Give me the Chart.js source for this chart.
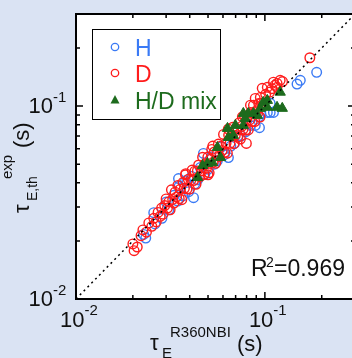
<!DOCTYPE html>
<html><head><meta charset="utf-8">
<script src="https://cdn.jsdelivr.net/npm/chart.js@4.4.1/dist/chart.umd.min.js"></script>
<style>
html,body{margin:0;padding:0;overflow:hidden;background:#dae3f3;width:352px;height:358px}
#wrap{width:362px;height:358px;position:relative}
</style></head>
<body><div id="wrap"><canvas id="c" width="362" height="358"></canvas></div>
<script>
// ---- data (x = tau_E^R360NBI [s], y = tau_E,th^exp [s]) ----
const hPoints = [
 [0.0234,0.0207],[0.0228,0.0216],[0.0258,0.0280],[0.0262,0.0245],[0.0285,0.0262],
 [0.0300,0.0318],[0.0310,0.0290],[0.0330,0.0345],[0.0345,0.0322],[0.0352,0.0385],
 [0.0349,0.0421],[0.0368,0.0342],[0.0380,0.0410],[0.0395,0.0360],[0.0410,0.0432],
 [0.0419,0.0335],[0.0425,0.0395],[0.0440,0.0415],[0.0455,0.0480],[0.0473,0.0568],
 [0.0480,0.0442],[0.0500,0.0470],[0.0520,0.0545],[0.0540,0.0500],[0.0560,0.0520],
 [0.0590,0.0615],[0.0610,0.0560],[0.0641,0.0541],[0.0660,0.0620],[0.0690,0.0640],
 [0.0720,0.0700],[0.0750,0.0700],[0.0790,0.0735],[0.0839,0.0794],[0.0889,0.0794],
 [0.0936,0.0773],[0.0930,0.0880],[0.0950,0.0910],[0.1030,0.0927],[0.1067,0.0927],
 [0.1110,0.0927],[0.1067,0.1033],[0.1480,0.1300],[0.1540,0.1360],[0.1880,0.1496]
];
const dPoints = [
 [0.0200,0.0193],[0.0203,0.0178],[0.0211,0.0186],[0.0221,0.0213],[0.0226,0.0228],
 [0.0236,0.0222],[0.0243,0.0248],[0.0252,0.0238],[0.0258,0.0262],[0.0266,0.0251],
 [0.0272,0.0281],[0.0279,0.0268],[0.0284,0.0296],[0.0289,0.0275],[0.0295,0.0305],
 [0.0300,0.0330],[0.0305,0.0296],[0.0310,0.0319],[0.0315,0.0290],[0.0320,0.0368],
 [0.0325,0.0328],[0.0330,0.0314],[0.0335,0.0358],[0.0341,0.0338],[0.0346,0.0388],
 [0.0352,0.0331],[0.0357,0.0371],[0.0363,0.0327],[0.0369,0.0402],[0.0375,0.0375],
 [0.0381,0.0446],[0.0387,0.0372],[0.0393,0.0417],[0.0399,0.0371],[0.0406,0.0414],
 [0.0412,0.0466],[0.0419,0.0411],[0.0426,0.0460],[0.0432,0.0393],[0.0439,0.0461],
 [0.0446,0.0495],[0.0454,0.0431],[0.0461,0.0461],[0.0468,0.0543],[0.0476,0.0443],
 [0.0483,0.0502],[0.0491,0.0476],[0.0499,0.0544],[0.0507,0.0451],[0.0515,0.0530],
 [0.0523,0.0596],[0.0532,0.0511],[0.0540,0.0578],[0.0549,0.0505],[0.0558,0.0564],
 [0.0567,0.0635],[0.0576,0.0547],[0.0585,0.0620],[0.0594,0.0588],[0.0604,0.0713],
 [0.0613,0.0576],[0.0623,0.0642],[0.0633,0.0570],[0.0643,0.0707],[0.0654,0.0641],
 [0.0664,0.0697],[0.0675,0.0776],[0.0686,0.0638],[0.0697,0.0704],[0.0708,0.0765],
 [0.0719,0.0690],[0.0731,0.0819],[0.0742,0.0675],[0.0754,0.0784],[0.0766,0.0758],
 [0.0779,0.0888],[0.0791,0.0751],[0.0804,0.0860],[0.0817,0.0752],[0.0830,0.0847],
 [0.0843,0.0927],[0.0857,0.0831],[0.0870,0.1009],[0.0884,0.0831],[0.0899,0.0944],
 [0.0913,0.0913],[0.0928,0.1030],[0.0943,0.0877],[0.0958,0.1035],[0.0973,0.1002],
 [0.0380,0.0440],[0.0500,0.0440],[0.0530,0.0620],[0.0640,0.0760],[0.0798,0.0640],
 [0.0760,0.0880],[0.0889,0.1096],[0.0839,0.1010],[0.0946,0.1109],[0.0968,0.1236],
 [0.1030,0.1250],[0.1110,0.1330],[0.1160,0.1310],[0.1205,0.1360],[0.1240,0.1340],
 [0.1160,0.1250],[0.1010,0.1150],[0.1060,0.1180],[0.1090,0.1230],[0.1130,0.1280],
 [0.1730,0.1780]
];
const mixPoints = [
 [0.0440,0.0426],[0.0468,0.0492],[0.0497,0.0504],[0.0528,0.0509],[0.0561,0.0610],
 [0.0582,0.0541],[0.0634,0.0766],[0.0641,0.0687],[0.0680,0.0705],[0.0698,0.0794],
 [0.0769,0.0916],[0.0769,0.0794],[0.0788,0.0863],[0.0817,0.0916],[0.0869,0.0916],
 [0.0912,0.0895],[0.0946,0.0973],[0.0980,0.1045],[0.1030,0.1070],[0.1030,0.0985],
 [0.1160,0.0985],[0.1205,0.1180],[0.1236,0.0973]
];
const axisMin = 0.01, axisMax = 0.3;
const tickValues = [0.01,0.02,0.03,0.04,0.05,0.06,0.07,0.08,0.09,0.1,0.2,0.3];
const majorTicks = [0.01,0.1];
const majorLabels = [['10','-2'],['10','-1']];
const seriesNames = ['H','D','H/D mix'];
const r2Value = '0.969';

const BLUE = '#3a7af5', RED = '#ff1c1c', GREEN = '#1d6b1d', INK = '#111111';
const FONT = '"Liberation Sans", Arial, sans-serif';
const toXY = arr => arr.map(p => ({x: p[0], y: p[1]}));

const deco = {
  id: 'deco',
  beforeDraw(chart) {
    const {ctx, chartArea: a} = chart;
    ctx.save();
    ctx.fillStyle = '#dae3f3';
    ctx.fillRect(0, 0, chart.width, chart.height);
    ctx.fillStyle = '#ffffff';
    ctx.fillRect(a.left, a.top, a.right - a.left, a.bottom - a.top);
    ctx.restore();
  },
  afterDraw(chart) {
    const {ctx, chartArea: a, scales} = chart;
    const xs = scales.x, ys = scales.y;
    ctx.save();
    ctx.strokeStyle = '#000'; ctx.lineWidth = 2;
    ctx.strokeRect(a.left, a.top, a.right - a.left, a.bottom - a.top);
    ctx.lineWidth = 1.5;
    ctx.beginPath();
    tickValues.forEach(v => {
      if (v <= axisMin || v >= axisMax) return;
      const len = majorTicks.includes(v) ? 7 : 4;
      const px = xs.getPixelForValue(v), py = ys.getPixelForValue(v);
      ctx.moveTo(px, a.bottom); ctx.lineTo(px, a.bottom - len);
      ctx.moveTo(px, a.top); ctx.lineTo(px, a.top + len);
      ctx.moveTo(a.left, py); ctx.lineTo(a.left + len, py);
      ctx.moveTo(a.right, py); ctx.lineTo(a.right - len, py);
    });
    ctx.stroke();
    ctx.fillStyle = INK;
    ctx.textBaseline = 'alphabetic';
    ctx.textAlign = 'left';
    majorTicks.forEach((v, i) => {
      const [base, sup] = majorLabels[i];
      const px = xs.getPixelForValue(v), py = ys.getPixelForValue(v);
      ctx.font = '22px ' + FONT;
      const wb = ctx.measureText(base).width;
      ctx.fillText(base, px - 16, 327);
      ctx.font = '15px ' + FONT;
      ctx.fillText(sup, px - 16 + wb, 315);
      ctx.font = '22px ' + FONT;
      ctx.fillText(base, 53 - wb, py + 7);
      ctx.font = '15px ' + FONT;
      ctx.fillText(sup, 53, py - 4);
    });
    ctx.font = '22px ' + FONT; ctx.fillText('\u03C4', 150, 350);
    ctx.font = '15px ' + FONT; ctx.fillText('E', 162, 358);
    ctx.fillText('R360NBI', 170, 337);
    ctx.font = '22px ' + FONT; ctx.fillText('(s)', 237, 351);
    ctx.save();
    ctx.translate(29, 0);
    ctx.rotate(-Math.PI / 2);
    ctx.font = '22px ' + FONT; ctx.fillText('\u03C4', -213, 0);
    ctx.font = '14px ' + FONT; ctx.fillText('E,th', -201, 8);
    ctx.font = '15px ' + FONT; ctx.fillText('exp', -179, -17);
    ctx.font = '22px ' + FONT; ctx.fillText('(s)', -148, 0);
    ctx.restore();
    ctx.font = '23px ' + FONT; ctx.fillText('R', 251, 276);
    ctx.font = '14px ' + FONT; ctx.fillText('2', 266, 267);
    ctx.font = '23px ' + FONT; ctx.fillText('=' + r2Value, 274, 276);
    ctx.fillStyle = '#fff';
    ctx.fillRect(92, 29, 128, 90);
    ctx.strokeStyle = '#000'; ctx.lineWidth = 1;
    ctx.strokeRect(92.5, 29.5, 128, 90);
    const rows = [56, 82, 109];
    const cols = [BLUE, RED, GREEN];
    chart.data.datasets.slice(0, 3).forEach((ds, i) => {
      const cy = rows[i] - 9;
      ctx.strokeStyle = cols[i]; ctx.fillStyle = cols[i]; ctx.lineWidth = 1.3;
      if (i < 2) {
        ctx.beginPath(); ctx.arc(115, cy, 3.7, 0, Math.PI * 2); ctx.stroke();
      } else {
        ctx.beginPath();
        ctx.moveTo(115, cy - 5); ctx.lineTo(119.5, cy + 3.5); ctx.lineTo(110.5, cy + 3.5);
        ctx.closePath(); ctx.fill();
      }
      ctx.font = '23px ' + FONT;
      ctx.fillText(seriesNames[i], 135, rows[i]);
    });
    ctx.restore();
  }
};

new Chart(document.getElementById('c'), {
  type: 'scatter',
  data: {
    datasets: [
      {label: seriesNames[0], data: toXY(hPoints), pointStyle: 'circle', pointRadius: 4.8,
       borderColor: BLUE, backgroundColor: 'rgba(0,0,0,0)', borderWidth: 1.4, order: 3},
      {label: seriesNames[1], data: toXY(dPoints), pointStyle: 'circle', pointRadius: 4.8,
       borderColor: RED, backgroundColor: 'rgba(0,0,0,0)', borderWidth: 1.4, order: 2},
      {label: seriesNames[2], data: toXY(mixPoints), pointStyle: 'triangle', pointRadius: 6,
       borderColor: GREEN, backgroundColor: GREEN, borderWidth: 1, order: 1},
      {type: 'line', label: 'y=x', data: [{x: axisMin, y: axisMin}, {x: axisMax, y: axisMax}],
       borderColor: '#000', borderWidth: 1.5, borderDash: [2, 3.5], pointRadius: 0, order: 0}
    ]
  },
  options: {
    responsive: false, animation: false, devicePixelRatio: 1,
    layout: {padding: {left: 76, top: 14, right: 7, bottom: 59}},
    scales: {
      x: {type: 'logarithmic', min: axisMin, max: axisMax, display: false},
      y: {type: 'logarithmic', min: axisMin, max: axisMax, display: false}
    },
    plugins: {legend: {display: false}, tooltip: {enabled: false}}
  },
  plugins: [deco]
});
</script></body></html>
